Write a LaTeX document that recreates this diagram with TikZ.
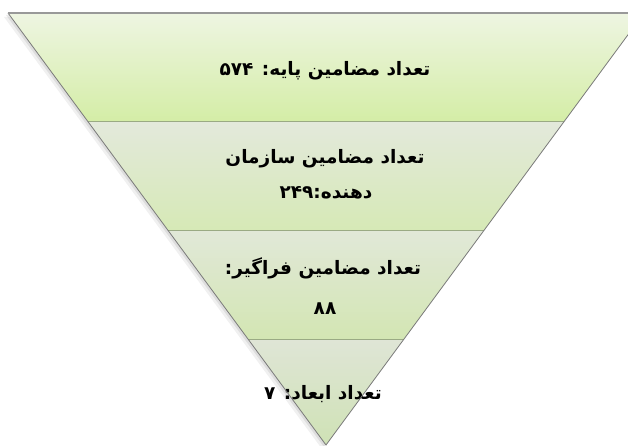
\documentclass[tikz,border=0pt]{standalone}
\usepackage{fontspec}
\newfontfamily\arabicfont[Script=Arabic]{DejaVu Sans}
\TeXXeTstate=1
\definecolor{bandAtop}{HTML}{EEF5E2}
\definecolor{bandAbot}{HTML}{D4EDA6}
\definecolor{bandBtop}{HTML}{E3E9DB}
\definecolor{bandBbot}{HTML}{D6E9B6}
\definecolor{bandCtop}{HTML}{E1E8D8}
\definecolor{bandCbot}{HTML}{D3E6B3}
\definecolor{bandDtop}{HTML}{DFE5D6}
\definecolor{bandDbot}{HTML}{CFE2B5}
\definecolor{edgegray}{HTML}{7A7A7A}
\definecolor{sepline}{HTML}{9AAA84}
\begin{document}
\begin{tikzpicture}[x=1pt,y=1pt,
  label text/.style={font=\arabicfont\bfseries\fontsize{18.5}{20}\selectfont, inner sep=0pt, anchor=base, text=black},
  band line/.style={draw=sepline, line width=1pt}]
\useasboundingbox (0,0) rectangle (628,445);
\clip (0,0) rectangle (628,445);
\fill[white] (0,0) rectangle (628,445);
% corners
\coordinate (A) at (8,432);
\coordinate (B) at (644,432);
\coordinate (C) at (326,0);
\coordinate (L1) at (88.2,323);
\coordinate (R1) at (563.8,323);
\coordinate (L2) at (167.7,215);
\coordinate (R2) at (484.3,215);
\coordinate (L3) at (248,106);
\coordinate (R3) at (404,106);
% soft shadow
\fill[black, opacity=0.06] ([shift={(-4,-4)}]A) -- ([shift={(-4,-4)}]B) -- ([shift={(-4,-4)}]C) -- cycle;
\fill[black, opacity=0.08] ([shift={(-2,-2)}]A) -- ([shift={(-2,-2)}]B) -- ([shift={(-2,-2)}]C) -- cycle;
% bands
\shade[top color=bandAtop, bottom color=bandAbot] (A) -- (B) -- (R1) -- (L1) -- cycle;
\shade[top color=bandBtop, bottom color=bandBbot] (L1) -- (R1) -- (R2) -- (L2) -- cycle;
\shade[top color=bandCtop, bottom color=bandCbot] (L2) -- (R2) -- (R3) -- (L3) -- cycle;
\shade[top color=bandDtop, bottom color=bandDbot] (L3) -- (R3) -- (C) -- cycle;
% separators
\draw[band line] (L1) -- (R1);
\draw[band line] (L2) -- (R2);
\draw[band line] (L3) -- (R3);
% texts
\node[label text] (t1) at (325,369) {\beginR تعداد مضامین پایه: \beginL ۵۷۴\endL\endR};
\node[label text] (t2a) at (325,281) {\beginR تعداد مضامین سازمان\endR};
\node[label text] (t2b) at (326,247) {\beginR دهنده:\beginL ۲۴۹\endL\endR};
\node[label text] (t3a) at (323,171) {\beginR تعداد مضامین فراگیر:\endR};
\node[label text] (t3b) at (325,131) {\beginL ۸۸\endL};
\node[label text] (t4) at (323,46) {\beginR تعداد ابعاد: \beginL ۷\endL\endR};
% outline
\draw[edgegray, line width=0.8pt] (A) -- (C) -- (B);
\draw[draw=black!40, line width=1.5pt] (A) -- (B);
\end{tikzpicture}
\end{document}
